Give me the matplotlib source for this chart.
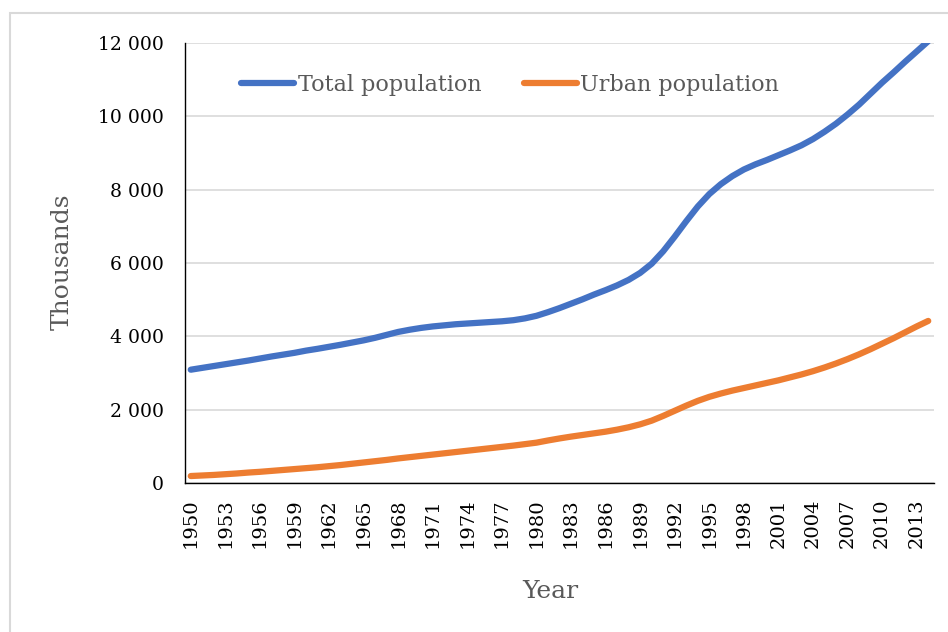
import matplotlib.pyplot as plt
from matplotlib.patches import Rectangle

years = list(range(1950, 2015))

total_population = [
    3090, 3140, 3190, 3240, 3290, 3340, 3395, 3450, 3500, 3550,
    3610, 3660, 3715, 3770, 3830, 3890, 3960, 4040, 4120, 4180,
    4230, 4270, 4300, 4330, 4350, 4370, 4390, 4410, 4440, 4490,
    4560, 4660, 4770, 4890, 5010, 5140, 5260, 5390, 5540, 5730,
    5980, 6320, 6720, 7140, 7540, 7880, 8150, 8370, 8550, 8690,
    8810, 8940, 9070, 9210, 9380, 9580, 9800, 10050, 10320, 10620,
    10920, 11200, 11490, 11770, 12050,
]

urban_population = [
    190, 205, 220, 240, 260, 285, 305, 330, 355, 380,
    405, 430, 460, 490, 525, 560, 595, 630, 670, 705,
    740, 775, 810, 845, 880, 915, 950, 985, 1020, 1060,
    1100, 1160, 1215, 1265, 1310, 1355, 1400, 1455, 1520, 1600,
    1700, 1830, 1970, 2110, 2240, 2350, 2440, 2520, 2590, 2660,
    2730, 2800, 2880, 2960, 3050, 3150, 3260, 3380, 3510, 3650,
    3800, 3950, 4110, 4270, 4420,
]

year_ticks = list(range(1950, 2014, 3))
value_ticks = list(range(0, 12001, 2000))

plt.rcParams['font.family'] = ['DejaVu Serif']

fig = plt.figure(figsize=(9.48, 6.32), dpi=100)

# light chart-area frame
fig.patches.append(Rectangle((10 / 948, -0.1), 1.2, 1 - 13 / 632 + 0.1,
                             transform=fig.transFigure, fill=False,
                             edgecolor='#D9D9D9', linewidth=1.5, zorder=0))

ax = fig.add_axes([185 / 948, 1 - 483 / 632, (934 - 185) / 948, (483 - 43) / 632])

ax.plot(years, total_population, color='#4472C4', linewidth=4.5,
        solid_capstyle='round', solid_joinstyle='round', label='Total population')
ax.plot(years, urban_population, color='#ED7D31', linewidth=4.5,
        solid_capstyle='round', solid_joinstyle='round', label='Urban population')

ax.set_xlim(1949.5, 2014.5)
ax.set_ylim(0, 12000)
ax.set_xticks(year_ticks)
ax.set_xticklabels([str(y) for y in year_ticks], rotation=90, fontsize=14)
ax.set_yticks(value_ticks)
ax.set_yticklabels([f"{v:,}".replace(",", " ") for v in value_ticks], fontsize=13.5)
ax.tick_params(axis='x', length=0, pad=11)
ax.tick_params(axis='y', length=0, pad=15)

ax.grid(axis='y', color='#D9D9D9', linewidth=1.2)
ax.set_axisbelow(True)
for side in ['top', 'right']:
    ax.spines[side].set_visible(False)
for side in ['left', 'bottom']:
    ax.spines[side].set_color('black')
    ax.spines[side].set_linewidth(1.0)
ax.spines['left'].set_zorder(3)

fig.text(62 / 948, 1 - 262 / 632, 'Thousands', rotation=90, fontsize=18,
         color='#595959', ha='center', va='center')
fig.text(550 / 948, 1 - 591 / 632, 'Year', fontsize=18,
         color='#595959', ha='center', va='center')

leg = fig.legend(loc='center left', bbox_to_anchor=(221 / 948, 1 - 85 / 632),
                 ncol=2, frameon=False, fontsize=16, handlelength=2.4,
                 handletextpad=0.15, columnspacing=1.9)
for t in leg.get_texts():
    t.set_color('#595959')

fig.savefig('out.png', dpi=100)
